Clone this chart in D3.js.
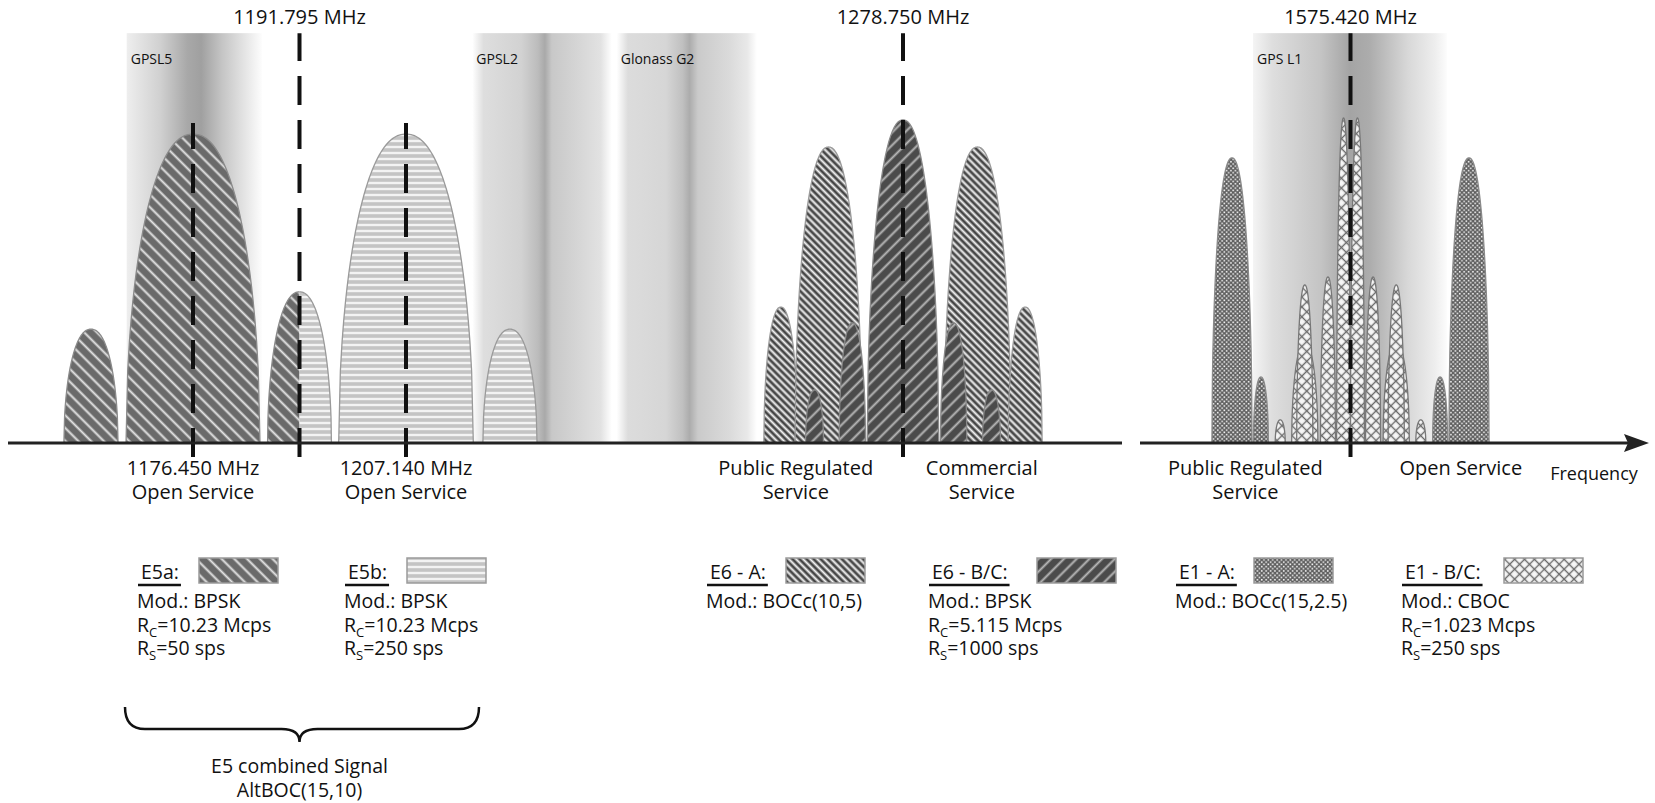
<!DOCTYPE html>
<html><head><meta charset="utf-8">
<script src="https://cdn.jsdelivr.net/npm/d3@7"></script>
<style>
body{margin:0;background:#fff;}
svg{display:block;font-family:"Open Sans",sans-serif;}
</style></head><body>
<svg id="chart" width="1655" height="803"></svg>
<script>
// ---------------- data ----------------
// centre frequencies with long dashed markers (MHz), segment of the broken axis
const centerFreqs = [1191.795, 1278.750, 1575.420];
const centerSegs = ["A", "A", "B"];
const centerLabels = ["1191.795 MHz", "1278.750 MHz", "1575.420 MHz"];
// sub-carrier frequencies of E5a / E5b (short dashed markers)
const carrierFreqs = [1176.450, 1207.140];

// other GNSS bands drawn as shaded columns: [name, from MHz, to MHz, segment]
const bandNames = ["GPSL5", "GPSL2", "Glonass G2", "GPS L1"];
const bandFrom  = [1166.9, 1216.7, 1237.5, 1562.8];
const bandTo    = [1186.4, 1236.8, 1257.7, 1587.9];
const bandSegs  = ["A", "A", "A", "B"];

// spectral lobes: [centre MHz, half width MHz, relative level (0-100), u0, u1]
const lobesE5a  = [[1161.75, 3.9, 34.5], [1176.45, 9.65, 93.6], [1191.795, 4.6, 45.8, -1, 0]];
const lobesE5b  = [[1191.795, 4.6, 45.8, 0, 1], [1207.14, 9.7, 93.6], [1222.12, 3.9, 34.5]];
const lobesE6A  = [[1261.15, 2.45, 41.2], [1268.02, 4.83, 89.7], [1289.48, 4.83, 89.7], [1296.35, 2.45, 41.2]];
const lobesE6BC = [[1278.75, 5.15, 97.9], [1271.45, 1.9, 36.4], [1286.05, 1.9, 36.4], [1266.0, 1.3, 16.1], [1291.5, 1.3, 16.1]];
const lobesE1A  = [[1560.075, 2.6, 86.4], [1590.765, 2.6, 86.4], [1563.82, 0.97, 20.0], [1587.02, 0.97, 20.0]];
const lobesE1BC = [[1566.32, 0.65, 7.0], [1584.52, 0.65, 7.0],
                   [1569.5, 1.7, 30.3], [1581.34, 1.7, 30.3],
                   [1569.5, 1.05, 47.9], [1581.34, 1.05, 47.9],
                   [1572.5, 0.97, 50.3], [1578.34, 0.97, 50.3],
                   [1574.52, 0.9, 98.5], [1576.32, 0.9, 98.5]];

// labels under the axis: [frequency MHz, segment, line1, line2]
const axisLabelFreqs = [1176.45, 1207.14, 1263.3, 1290.1, 1561.8, 1589.7];
const axisLabelSegs  = ["A", "A", "A", "A", "B", "B"];
const axisLabelLine1 = ["1176.450 MHz", "1207.140 MHz", "Public Regulated", "Commercial", "Public Regulated", "Open Service"];
const axisLabelLine2 = ["Open Service", "Open Service", "Service", "Service", "Service", ""];

// legend
const legendTitles = ["E5a:", "E5b:", "E6 - A:", "E6 - B/C:", "E1 - A:", "E1 - B/C:"];
const legendDetails = [
  [[["Mod.: BPSK"]], [["R"], ["C", 1], ["=10.23 Mcps"]], [["R"], ["S", 1], ["=50 sps"]]],
  [[["Mod.: BPSK"]], [["R"], ["C", 1], ["=10.23 Mcps"]], [["R"], ["S", 1], ["=250 sps"]]],
  [[["Mod.: BOCc(10,5)"]]],
  [[["Mod.: BPSK"]], [["R"], ["C", 1], ["=5.115 Mcps"]], [["R"], ["S", 1], ["=1000 sps"]]],
  [[["Mod.: BOCc(15,2.5)"]]],
  [[["Mod.: CBOC"]], [["R"], ["C", 1], ["=1.023 Mcps"]], [["R"], ["S", 1], ["=250 sps"]]]
];
const braceLabel = ["E5 combined Signal", "AltBOC(15,10)"];

// ---------------- layout / style ----------------
const svg = d3.select("#chart");
const axisY = 443;
const xA = d3.scaleLinear().domain([1176.45, 1278.75]).range([193, 903]);
const xB = d3.scaleLinear().domain([1560.075, 1590.765]).range([1232, 1469]);
const seg = s => s === "A" ? xA : xB;
const y = d3.scaleLinear().domain([0, 100]).range([axisY, 113]);
const bandTopVal = 124.2, centerTopVal = 124.2, carrierTopVal = 97;

const defs = svg.append("defs");
function stripes(id, size, angle, bg, fg, w) {
  const p = defs.append("pattern").attr("id", id).attr("patternUnits", "userSpaceOnUse")
    .attr("width", size).attr("height", size).attr("patternTransform", `rotate(${angle})`);
  p.append("rect").attr("width", size).attr("height", size).attr("fill", bg);
  p.append("line").attr("x1", size / 2).attr("x2", size / 2).attr("y1", -1).attr("y2", size + 1)
    .attr("stroke", fg).attr("stroke-width", w);
}
stripes("pE5a", 9, -45, "#6a6a6a", "#e4e4e4", 2);
stripes("pE5b", 6, 90, "#c4c4c4", "#f3f3f3", 2.4);
stripes("pE6A", 5, -45, "#474747", "#f2f2f2", 2.1);
stripes("pE6BC", 9, 45, "#4b4b4b", "#b8b8b8", 2);
(function () {
  const p = defs.append("pattern").attr("id", "pE1A").attr("patternUnits", "userSpaceOnUse")
    .attr("width", 4.4).attr("height", 4.4);
  p.append("rect").attr("width", 4.4).attr("height", 4.4).attr("fill", "#5e5e5e");
  p.append("rect").attr("x", 0.35).attr("y", 0.35).attr("width", 1.6).attr("height", 1.6).attr("fill", "#f4f4f4");
  p.append("rect").attr("x", 2.55).attr("y", 2.55).attr("width", 1.6).attr("height", 1.6).attr("fill", "#f4f4f4");
  const q = defs.append("pattern").attr("id", "pE1BC").attr("patternUnits", "userSpaceOnUse")
    .attr("width", 7).attr("height", 7).attr("patternTransform", "rotate(45)");
  q.append("rect").attr("width", 7).attr("height", 7).attr("fill", "#f6f6f6");
  q.append("line").attr("x1", 3.5).attr("x2", 3.5).attr("y1", -1).attr("y2", 8).attr("stroke", "#6a6a6a").attr("stroke-width", 1.4);
  q.append("line").attr("y1", 3.5).attr("y2", 3.5).attr("x1", -1).attr("x2", 8).attr("stroke", "#6a6a6a").attr("stroke-width", 1.4);
})();

const bandStops = {
  "GPSL5": [[0, "#eeeeee"], [0.25, "#d0d0d0"], [0.45, "#a8a8a8"], [0.55, "#a0a0a0"], [0.7, "#c4c4c4"], [0.88, "#e6e6e6"], [1, "#fdfdfd"]],
  "GPSL2": [[0, "#ffffff"], [0.08, "#dedede"], [0.35, "#d2d2d2"], [0.47, "#bcbcbc"], [0.52, "#a9a9a9"], [0.57, "#c8c8c8"], [0.75, "#d5d5d5"], [0.92, "#e2e2e2"], [1, "#ffffff"]],
  "Glonass G2": [[0, "#ffffff"], [0.08, "#dcdcdc"], [0.35, "#d6d6d6"], [0.47, "#c0c0c0"], [0.52, "#acacac"], [0.58, "#cacaca"], [0.8, "#dadada"], [0.93, "#e8e8e8"], [1, "#ffffff"]],
  "GPS L1": [[0, "#f4f4f4"], [0.1, "#dedede"], [0.35, "#c4c4c4"], [0.5, "#a4a4a4"], [0.6, "#acacac"], [0.8, "#d8d8d8"], [0.94, "#eeeeee"], [1, "#fcfcfc"]]
};
bandNames.forEach((n, i) => {
  const g = defs.append("linearGradient").attr("id", "band" + i).attr("x1", 0).attr("x2", 1).attr("y1", 0).attr("y2", 0);
  bandStops[n].forEach(s => g.append("stop").attr("offset", s[0]).attr("stop-color", s[1]));
});

// ---------------- bands ----------------
const gBands = svg.append("g");
bandNames.forEach((n, i) => {
  const xs = seg(bandSegs[i]);
  gBands.append("rect").attr("x", xs(bandFrom[i])).attr("width", xs(bandTo[i]) - xs(bandFrom[i]))
    .attr("y", y(bandTopVal)).attr("height", y(0) - y(bandTopVal)).attr("fill", `url(#band${i})`);
  gBands.append("text").attr("x", xs(bandFrom[i]) + 4).attr("y", 64).attr("font-size", 14).attr("fill", "#111").text(n);
});

// ---------------- lobes ----------------
const shape = u => Math.sqrt(Math.max(0, 1 - Math.pow(Math.abs(u), 2.2)));
function drawLobes(lobes, xs, pat, stroke) {
  const g = svg.append("g");
  lobes.forEach(l => {
    const [c, hw, h] = l;
    const u0 = l.length > 3 ? l[3] : -1, u1 = l.length > 4 ? l[4] : 1;
    const n = 80;
    const pts = d3.range(n + 1).map(k => { const u = u0 + (u1 - u0) * k / n; return {f: c + u * hw, v: h * shape(u)}; });
    g.append("path").datum(pts).attr("d", d3.area().x(d => xs(d.f)).y0(y(0)).y1(d => y(d.v)))
      .attr("fill", `url(#${pat})`);
    g.append("path").datum(pts).attr("d", d3.line().x(d => xs(d.f)).y(d => y(d.v)))
      .attr("fill", "none").attr("stroke", stroke).attr("stroke-width", 1.3);
  });
}
drawLobes(lobesE5a, xA, "pE5a", "#8a8a8a");
drawLobes(lobesE5b, xA, "pE5b", "#9a9a9a");
drawLobes(lobesE6A, xA, "pE6A", "#9a9a9a");
drawLobes(lobesE6BC, xA, "pE6BC", "#8a8a8a");
drawLobes(lobesE1A, xB, "pE1A", "#8a8a8a");
drawLobes(lobesE1BC, xB, "pE1BC", "#777");

// ---------------- dashed markers ----------------
const gDash = svg.append("g").attr("stroke", "#111").attr("stroke-width", 4).attr("stroke-dasharray", "29,15");
centerFreqs.forEach((f, i) => {
  const xs = seg(centerSegs[i]);
  gDash.append("line").attr("x1", xs(f)).attr("x2", xs(f)).attr("y1", axisY + 14).attr("y2", y(centerTopVal));
  svg.append("text").attr("x", xs(f)).attr("y", 24).attr("text-anchor", "middle").attr("font-size", 20).attr("fill", "#111").text(centerLabels[i]);
});
carrierFreqs.forEach(f => {
  gDash.append("line").attr("x1", xA(f)).attr("x2", xA(f)).attr("y1", axisY + 14).attr("y2", y(carrierTopVal));
});

// ---------------- axis ----------------
const gAxis = svg.append("g").attr("stroke", "#222").attr("stroke-width", 3);
gAxis.append("line").attr("x1", 8).attr("x2", 1122).attr("y1", axisY).attr("y2", axisY);
gAxis.append("line").attr("x1", 1140).attr("x2", 1630).attr("y1", axisY).attr("y2", axisY);
svg.append("path").attr("d", `M1624,${axisY - 9} L1649,${axisY} L1624,${axisY + 9} L1628,${axisY} Z`).attr("fill", "#222");
svg.append("text").attr("x", 1594).attr("y", 480).attr("text-anchor", "middle").attr("font-size", 18).attr("fill", "#111").text("Frequency");

axisLabelFreqs.forEach((f, i) => {
  const xs = seg(axisLabelSegs[i]);
  const t = svg.append("text").attr("x", xs(f)).attr("y", 475).attr("text-anchor", "middle").attr("font-size", 20).attr("fill", "#111");
  t.append("tspan").attr("x", xs(f)).text(axisLabelLine1[i]);
  if (axisLabelLine2[i]) t.append("tspan").attr("x", xs(f)).attr("dy", 24).text(axisLabelLine2[i]);
});

// ---------------- legend ----------------
const legendPats = ["pE5a", "pE5b", "pE6A", "pE6BC", "pE1A", "pE1BC"];
const colDetX = [137, 344, 706, 928, 1175, 1401];
const colSwX = [199, 407, 786, 1037, 1254, 1504];
legendTitles.forEach((tt, i) => {
  const tx = colDetX[i] + 4;
  const t = svg.append("text").attr("x", tx).attr("y", 579).attr("font-size", 19.5).attr("fill", "#111").text(tt);
  const w = t.node().getComputedTextLength();
  svg.append("line").attr("x1", colDetX[i] + 1).attr("x2", tx + w + 2).attr("y1", 585).attr("y2", 585)
    .attr("stroke", "#111").attr("stroke-width", 2.5);
  svg.append("rect").attr("x", colSwX[i]).attr("y", 558).attr("width", 79).attr("height", 25)
    .attr("fill", `url(#${legendPats[i]})`).attr("stroke", "#9a9a9a").attr("stroke-width", 1.5);
  legendDetails[i].forEach((line, j) => {
    const tl = svg.append("text").attr("x", colDetX[i]).attr("y", 608 + j * 23.5).attr("font-size", 19.5).attr("fill", "#111");
    let shifted = false;
    line.forEach(([s, sub]) => {
      const sp = tl.append("tspan").text(s);
      if (sub) { sp.attr("font-size", 13).attr("dy", 5); shifted = true; }
      else if (shifted) { sp.attr("dy", -5); shifted = false; }
    });
  });
});

// brace for E5 combined signal
const bx0 = 125, bx1 = 479, bxm = (xA(1176.45) + xA(1207.14)) / 2, byTop = 707, byMid = 729, byTip = 742;
svg.append("path").attr("d",
  `M${bx0},${byTop} Q${bx0},${byMid} ${bx0 + 20},${byMid} L${bxm - 18},${byMid} Q${bxm},${byMid} ${bxm},${byTip} ` +
  `Q${bxm},${byMid} ${bxm + 18},${byMid} L${bx1 - 20},${byMid} Q${bx1},${byMid} ${bx1},${byTop}`)
  .attr("fill", "none").attr("stroke", "#111").attr("stroke-width", 2.5);
braceLabel.forEach((s, j) => {
  svg.append("text").attr("x", bxm).attr("y", 773 + j * 24).attr("text-anchor", "middle").attr("font-size", 19.5).attr("fill", "#111").text(s);
});
</script>
</body></html>
